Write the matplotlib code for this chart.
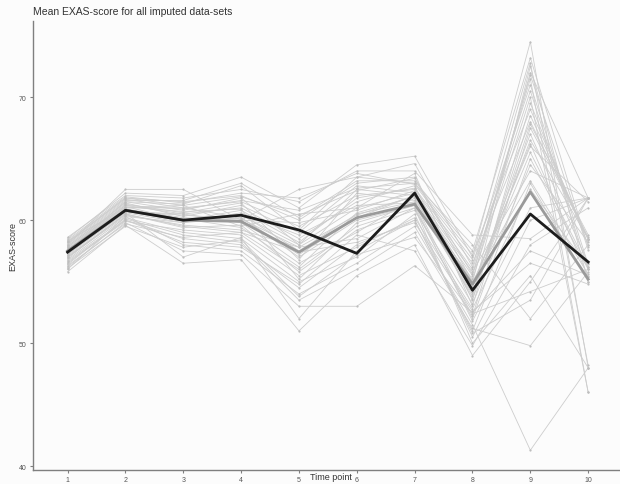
import matplotlib
matplotlib.use("Agg")
import matplotlib.pyplot as plt

plt.rcParams["font.family"] = ["Liberation Sans", "DejaVu Sans"]

time_points = [1, 2, 3, 4, 5, 6, 7, 8, 9, 10]

# mean EXAS-score per time point, one row per imputed data-set
imputed = [
    [57.8, 61.2, 60.5, 61.0, 58.5, 61.5, 62.8, 53.5, 68.5, 58.5],
    [58.2, 61.8, 61.5, 62.0, 60.0, 63.0, 63.5, 55.0, 72.0, 61.8],
    [57.0, 60.5, 59.5, 59.0, 56.0, 59.5, 61.0, 52.0, 65.0, 56.0],
    [56.5, 60.0, 58.5, 58.0, 54.5, 58.0, 60.0, 51.0, 63.0, 55.0],
    [58.5, 62.2, 62.0, 63.5, 61.0, 64.5, 65.2, 57.0, 74.5, 48.0],
    [57.3, 60.8, 60.0, 60.5, 57.5, 60.5, 61.5, 54.0, 66.5, 58.5],
    [55.8, 59.6, 56.5, 56.8, 51.0, 55.5, 58.0, 49.0, 55.0, 61.8],
    [57.6, 61.0, 61.0, 61.5, 59.5, 62.0, 62.5, 56.0, 70.5, 56.0],
    [58.0, 62.5, 62.5, 60.0, 62.5, 63.5, 63.0, 58.0, 52.0, 58.0],
    [56.8, 60.2, 59.0, 58.5, 55.0, 57.0, 60.5, 50.5, 60.0, 61.8],
    [57.5, 61.5, 60.8, 61.8, 58.0, 62.5, 62.0, 55.5, 71.5, 46.0],
    [56.2, 59.8, 57.5, 57.2, 53.0, 53.0, 56.3, 52.5, 57.5, 55.5],
    [58.3, 61.0, 61.2, 59.5, 60.5, 61.0, 63.8, 53.0, 69.5, 58.0],
    [57.2, 60.6, 59.8, 60.2, 57.0, 60.0, 61.2, 54.5, 67.0, 56.5],
    [56.0, 60.3, 58.0, 57.5, 54.0, 56.5, 59.5, 51.5, 41.3, 48.0],
    [57.9, 61.4, 60.3, 61.2, 59.0, 62.8, 62.2, 55.8, 64.0, 61.8],
    [57.4, 60.7, 60.5, 59.8, 56.5, 59.0, 61.8, 53.8, 72.5, 55.0],
    [58.6, 62.0, 61.8, 62.5, 61.5, 64.0, 64.0, 58.8, 58.5, 61.8],
    [56.6, 59.9, 59.2, 58.8, 55.5, 57.8, 60.2, 52.8, 62.5, 56.2],
    [57.7, 61.1, 60.0, 60.8, 58.2, 61.8, 62.6, 56.5, 68.0, 58.5],
    [57.1, 60.4, 59.6, 59.2, 57.8, 58.5, 61.0, 50.0, 55.5, 48.0],
    [58.1, 61.6, 61.6, 63.0, 60.2, 63.2, 63.2, 57.5, 73.2, 57.8],
    [56.4, 60.1, 58.8, 58.2, 53.5, 56.0, 59.0, 51.2, 49.8, 55.8],
    [57.6, 60.9, 60.2, 60.0, 59.8, 60.8, 62.4, 54.8, 66.0, 61.5],
    [57.9, 61.3, 60.6, 61.4, 56.8, 62.2, 61.6, 55.2, 70.0, 46.0],
    [56.9, 60.5, 59.4, 59.6, 55.8, 59.2, 60.8, 53.2, 64.5, 58.2],
    [58.4, 61.9, 61.4, 62.2, 61.8, 63.8, 62.9, 56.8, 71.0, 56.4],
    [57.3, 60.6, 57.0, 58.6, 52.0, 57.5, 60.0, 50.8, 53.5, 61.8],
    [57.0, 60.3, 59.8, 60.6, 58.8, 61.2, 61.4, 52.2, 67.5, 58.6],
    [58.2, 61.7, 61.0, 60.2, 57.2, 60.2, 62.0, 55.0, 63.2, 55.6],
    [56.7, 60.0, 58.2, 57.8, 54.8, 58.8, 57.5, 49.8, 58.0, 61.0],
    [57.8, 61.2, 60.9, 61.6, 60.8, 62.6, 63.0, 57.2, 69.0, 58.4],
    [57.5, 60.8, 60.1, 59.4, 56.2, 60.6, 61.9, 54.2, 65.5, 56.2],
    [56.3, 59.7, 58.6, 59.0, 57.4, 58.2, 59.8, 52.6, 56.5, 54.8],
    [58.0, 61.5, 61.3, 62.8, 59.2, 63.5, 64.6, 56.2, 72.8, 48.2],
    [57.2, 60.9, 59.9, 60.4, 58.0, 61.0, 62.2, 53.6, 67.8, 58.8],
    [57.6, 61.1, 60.7, 60.9, 55.2, 59.8, 61.2, 51.8, 61.0, 61.8],
    [56.1, 59.5, 57.8, 58.4, 53.8, 57.2, 58.6, 52.4, 54.2, 56.0],
    [58.3, 61.8, 61.2, 61.9, 60.4, 62.4, 63.4, 55.6, 71.8, 57.6],
    [57.4, 60.7, 60.4, 60.1, 57.8, 60.4, 62.0, 54.6, 66.2, 55.4],
]

pooled_mean = [57.5, 60.8, 60.0, 59.9, 57.4, 60.2, 61.3, 54.8, 62.3, 55.2]
observed_mean = [57.4, 60.8, 60.0, 60.4, 59.2, 57.3, 62.2, 54.3, 60.5, 56.6]

fig = plt.figure(figsize=(6.2, 4.85), dpi=100)
fig.patch.set_facecolor("#fcfcfc")
ax = fig.add_axes([0.053, 0.029, 0.947, 0.926])
ax.set_facecolor("#fcfcfc")

for row in imputed:
    ax.plot(time_points, row, color="#cdcdcd", linewidth=0.6,
            marker="o", markersize=1.6, markerfacecolor="#bdbdbd",
            markeredgewidth=0, zorder=1)

ax.plot(time_points, pooled_mean, color="#9a9a9a", linewidth=2.0, zorder=2)
ax.plot(time_points, observed_mean, color="#1c1c1c", linewidth=2.0, zorder=3)

ax.set_xlim(0.4, 10.55)
ax.set_ylim(39.7, 76.2)
ax.set_xticks(time_points)
ax.set_yticks([40, 50, 60, 70])

for side in ["top", "right"]:
    ax.spines[side].set_visible(False)
for side in ["left", "bottom"]:
    ax.spines[side].set_color("#7f7f7f")
    ax.spines[side].set_linewidth(1.0)
ax.tick_params(axis="both", colors="#7f7f7f", labelcolor="#555555",
               labelsize=5, length=2.5, width=0.8, pad=2)

ax.set_title("Mean EXAS-score for all imputed data-sets", loc="left",
             fontsize=7.5, color="#333333", pad=5)
ax.set_ylabel("EXAS-score", fontsize=6.5, color="#333333")
ax.yaxis.set_label_coords(-0.027, 0.5)
ax.set_xlabel("Time point", fontsize=6.5, color="#333333")
ax.xaxis.set_label_coords(0.507, -0.0155)
ax.xaxis.label.set_verticalalignment("center")

fig.savefig("out.png", dpi=100, facecolor=fig.get_facecolor())
